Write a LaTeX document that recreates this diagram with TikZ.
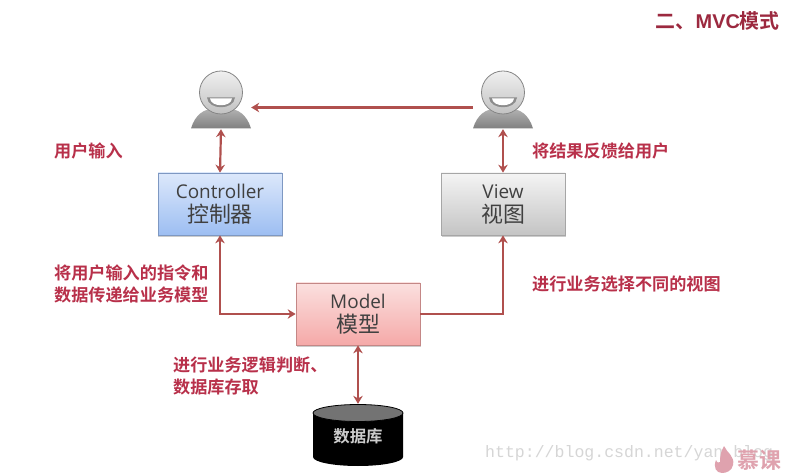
\documentclass[tikz,border=0pt]{standalone}
\usepackage{fontspec}
\setmainfont{Open Sans}
\newfontfamily\cjk{Noto Sans CJK SC}
\newfontfamily\cjkb{Noto Sans CJK SC Bold}
\newfontfamily\wm{Liberation Mono}
\newfontfamily\titlef{Liberation Sans Bold}
\usetikzlibrary{arrows.meta,shadows}
\definecolor{conn}{HTML}{B0504E}
\definecolor{lab}{HTML}{B8304A}
\definecolor{blueT}{HTML}{DCE8FB}
\definecolor{blueB}{HTML}{9DBEF2}
\definecolor{redT}{HTML}{FBE0DF}
\definecolor{redB}{HTML}{F5A9A8}
\definecolor{grayT}{HTML}{F4F4F4}
\definecolor{grayB}{HTML}{C4C4C4}
\tikzset{
  boxn/.style={minimum width=124bp,minimum height=62bp,inner sep=0pt,align=center,
    draw=#1,line width=0.7pt,font=\fontsize{19}{24}\selectfont,text=black!75,
    drop shadow={shadow xshift=0.5pt,shadow yshift=-2pt,fill=black,opacity=0.2}},
  conn/.style={draw=conn,line width=2.2pt,{Stealth[length=8pt,width=9.5pt]}-{Stealth[length=8pt,width=9.5pt]}},
  conn1/.style={draw=conn,line width=2.2pt,-{Stealth[length=8pt,width=9.5pt]}},
  lab/.style={text=lab,font=\cjkb\fontsize{17.2}{22}\selectfont,anchor=west,align=left,inner sep=0pt},
  personn/.style={minimum width=60bp,minimum height=57bp,inner sep=0pt},
}
\newcommand{\cjkl}[1]{{\cjk\fontsize{22}{24}\selectfont #1}}
\begin{document}
\begin{tikzpicture}[x=1bp,y=-1bp]
\useasboundingbox[fill=white] (0,0) rectangle (785,473);
% watermark
\node[font=\wm\fontsize{16.6}{20}\selectfont,text=black!16,anchor=west,inner sep=0pt] (wmark) at (485,453) {http://blog.csdn.net/yan blog};
% title
\node[text=lab!85!black,font=\cjkb\fontsize{20}{22}\selectfont,anchor=east,inner sep=0pt] (title) at (780,21) {二、{\titlef MVC}模式};
% users
\node[personn] (userA) at (221,100.5) {};
\node[personn] (userB) at (503,100.5) {};
\foreach \n in {userA,userB}{
  \begin{scope}[shift={(\n.center)}]
    \shade[top color=black!30,bottom color=black!50] (-30,28) .. controls (-26,14) and (-16,8) .. (-9,9) .. controls (-3,12) and (3,12) .. (9,9) .. controls (16,8) and (26,14) .. (30,28) -- cycle;
    \shade[top color=black!6,bottom color=black!24,draw=black!48,line width=0.8pt] (0,-8) circle (21.5);
    \fill[black!45] (-14,-3) -- (14,-3) .. controls (13,10) and (-13,10) .. (-14,-3) -- cycle;
    \fill[white] (-11,-2) -- (11,-2) .. controls (10,7) and (-10,7) .. (-11,-2) -- cycle;
  \end{scope}
}
% boxes
\node[boxn=blueB!80!black,top color=blueT,bottom color=blueB] (ctrl) at (220,204) {Controller\\[0pt]\cjkl{控制器}};
\node[boxn=black!35,top color=grayT,bottom color=grayB] (view) at (503,204) {View\\[0pt]\cjkl{视图}};
\node[boxn=redB!80!black,top color=redT,bottom color=redB] (model) at (358,314) {Model\\[0pt]\cjkl{模型}};
% database
\node[minimum width=90bp,minimum height=62bp,inner sep=0pt] (db) at (358,435) {};
\fill[black] (313,413) -- (313,457) arc[start angle=180,end angle=0,x radius=45,y radius=9] -- (403,413) -- cycle;
\fill[black!55,draw=black,line width=0.8pt] (358,413) ellipse (45 and 8.5);
\node[text=white!80!black,font=\cjkb\fontsize{16.5}{18}\selectfont,inner sep=0pt] (dblabel) at (358,436) {数据库};
% connectors
\draw[conn] (userA.south) -- (ctrl.north);
\draw[conn] (userB.south) -- (view.north);
\draw[conn1] ([yshift=-7bp]userB.west) -- ([yshift=-7bp]userA.east);
\draw[conn] (ctrl.south) |- (model.west);
\draw[conn1] (model.east) -| (view.south);
\draw[conn] (model.south) -- (db.north);
% labels
\node[lab] (l1) at (54,151) {用户输入};
\node[lab] (l2) at (532,151) {将结果反馈给用户};
\node[lab] (l3) at (54,284) {将用户输入的指令和\\数据传递给业务模型};
\node[lab] (l4) at (532,284) {进行业务选择不同的视图};
\node[lab] (l5) at (173,376) {进行业务逻辑判断、\\数据库存取};
% logo
\fill[lab!45!white] (724,446) .. controls (727,453) and (735,456) .. (733,465) .. controls (732,471) and (726,473) .. (722,473) .. controls (716,473) and (713,467) .. (716,460) .. controls (717,463) and (719,463) .. (720,462) .. controls (720,456) and (721,451) .. (724,446) -- cycle;
\node[text=lab!45!white,font=\cjkb\fontsize{22}{24}\selectfont,inner sep=0pt,anchor=west] (logo) at (737,460) {慕课};
\end{tikzpicture}
\end{document}
